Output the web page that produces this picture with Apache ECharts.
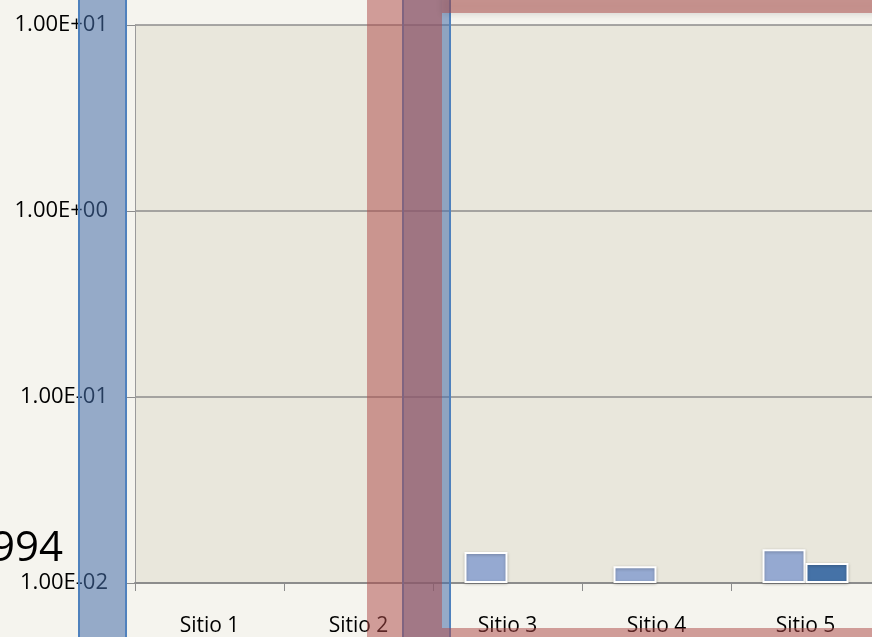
<!DOCTYPE html>
<html>
<head>
<meta charset="utf-8">
<script src="https://cdn.jsdelivr.net/npm/echarts@6/dist/echarts.min.js"></script>
<style>
  html, body { margin: 0; padding: 0; background: #f5f4ee; overflow: hidden; }
  #chart { width: 882px; height: 637px; }
</style>
</head>
<body>
<div id="chart"></div>
<script>
const categories = ['Sitio 1', 'Sitio 2', 'Sitio 3', 'Sitio 4', 'Sitio 5']
const serie1 = [null, null, 0.0147, 0.0123, 0.0152]
const serie2 = [null, null, null, null, 0.0128]
const yMin = 0.01
const yMax = 10

// chart box is a bit wider than the window: the plot runs off the right edge
const chart = echarts.init(document.getElementById('chart'))

// Excel style label: 1.00E+01
function sciLabel(v) {
  const e = Math.round(Math.log10(v))
  const m = (v / Math.pow(10, e)).toFixed(2)
  const sign = e < 0 ? '-' : '+'
  return m + 'E' + sign + String(Math.abs(e)).padStart(2, '0')
}

const font = 'Open Sans'

const options = {
  backgroundColor: '#f5f4ee',
  animation: false,
  grid: {
    left: 135,
    top: 25,
    bottom: 53,
    right: 2,
    show: true,
    backgroundColor: '#e9e7dc',
    borderWidth: 0,
  },
  xAxis: {
    type: 'category',
    data: categories,
    axisLine: { lineStyle: { color: '#8c8c8c', width: 2 } },
    axisTick: { show: true, length: 8, lineStyle: { color: '#8c8c8c' } },
    axisLabel: { color: '#000', fontSize: 21, fontFamily: font, margin: 33 },
  },
  yAxis: {
    type: 'log',
    logBase: 10,
    min: yMin,
    max: yMax,
    startValue: yMin,
    axisLine: { show: true, lineStyle: { color: '#9a9a9a' } },
    axisTick: { show: true, length: 8, lineStyle: { color: '#8c8c8c' } },
    splitLine: { lineStyle: { color: '#8c8c8c', width: 1.5 } },
    minorTick: { show: false },
    axisLabel: {
      color: '#000',
      fontSize: 22,
      fontFamily: font,
      margin: 27,
      formatter: sciLabel,
    },
  },
  series: [
    {
      name: 'Serie 1',
      type: 'bar',
      data: serie1,
      barWidth: 43,
      barGap: '0%',
      itemStyle: {
        color: '#95a9d1',
        borderColor: '#ffffff',
        borderWidth: 2,
        shadowColor: 'rgba(0,0,0,0.25)',
        shadowBlur: 3,
        shadowOffsetY: 1,
      },
    },
    {
      name: 'Serie 2',
      type: 'bar',
      data: serie2,
      barWidth: 43,
      itemStyle: {
        color: '#4572a7',
        borderColor: '#ffffff',
        borderWidth: 2,
        shadowColor: 'rgba(0,0,0,0.25)',
        shadowBlur: 3,
        shadowOffsetY: 1,
      },
    },
  ],
  graphic: [
    // leftover title text at the left edge
    {
      type: 'text',
      x: 63,
      y: 549,
      z: 5,
      style: {
        text: '994',
        fontSize: 42,
        fontFamily: font,
        fill: '#000',
        align: 'right',
        verticalAlign: 'middle',
      },
    },
    // blue overlay band on the left
    {
      type: 'rect',
      z: 20,
      shape: { x: 79, y: -5, width: 47, height: 650 },
      style: { fill: 'rgba(70,110,170,0.55)', stroke: '#4f81bd', lineWidth: 2 },
    },
    // blue overlay band in the middle
    {
      type: 'rect',
      z: 20,
      shape: { x: 403, y: -5, width: 47, height: 650 },
      style: { fill: 'rgba(70,110,170,0.55)', stroke: '#4f81bd', lineWidth: 2 },
    },
    // pink overlay: vertical band
    {
      type: 'rect',
      z: 21,
      shape: { x: 367, y: -5, width: 75, height: 650 },
      style: { fill: 'rgba(175,75,72,0.52)' },
    },
    // pink overlay: top band
    {
      type: 'rect',
      z: 21,
      shape: { x: 442, y: -5, width: 450, height: 18 },
      style: {
        fill: 'rgba(175,75,72,0.52)',
        shadowColor: 'rgba(0,0,0,0.2)',
        shadowBlur: 6,
        shadowOffsetY: 2,
      },
    },
    // pink overlay: bottom band
    {
      type: 'rect',
      z: 21,
      shape: { x: 442, y: 628, width: 450, height: 20 },
      style: { fill: 'rgba(175,75,72,0.52)' },
    },
  ],
}

chart.setOption(options)
</script>
</body>
</html>
